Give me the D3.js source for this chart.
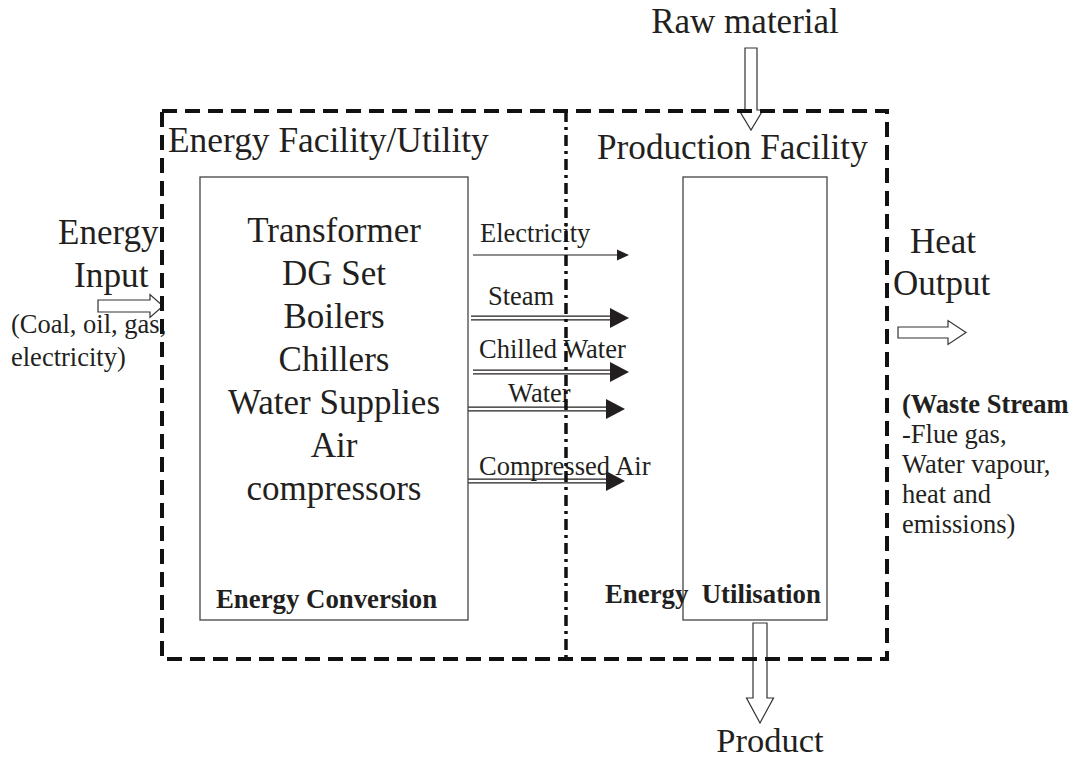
<!DOCTYPE html>
<html>
<head>
<meta charset="utf-8">
<script src="https://cdn.jsdelivr.net/npm/d3@7"></script>
<style>
  html, body { margin: 0; padding: 0; background: #fff; }
  svg { display: block; }
  text { font-family: "Liberation Serif", "Times New Roman", serif; fill: #231f20; }
</style>
</head>
<body>
<svg id="chart"></svg>
<script>
// diagram content
const componentItems = ['Transformer', 'DG Set', 'Boilers', 'Chillers', 'Water Supplies', 'Air', 'compressors'];
const flowNames = ['Electricity', 'Steam', 'Chilled Water', 'Water', 'Compressed Air'];
const flowKinds = ['single', 'double', 'double', 'double', 'double'];
const inputLines = ['(Coal, oil, gas,', 'electricity)'];
const wasteLines = ['(Waste Stream', '-Flue gas,', 'Water vapour,', 'heat and', 'emissions)'];
const wasteBold = [true, false, false, false, false];

// layout of the flow rows (line y, label baseline, label x, line start, tip)
const flowLayout = [
  { y: 255, ly: 242, lx: 480, x0: 473, x1: 629 },
  { y: 318, ly: 305, lx: 488, x0: 471, x1: 629 },
  { y: 372, ly: 358, lx: 479, x0: 473, x1: 629 },
  { y: 409, ly: 402, lx: 508, x0: 468, x1: 625 },
  { y: 481, ly: 475, lx: 479, x0: 468, x1: 625 }
];

const width = 1072, height = 763;
const ink = '#231f20';

const svg = d3.select('#chart').attr('width', width).attr('height', height);

const arrows = svg.append('g');
const boxes = svg.append('g');
const labels = svg.append('g');
const frame = svg.append('g');

// hollow block arrow, dir = 'right' or 'down'
function blockArrow(g, dir, c, s0, s1, tip, half, headHalf) {
  let pts;
  if (dir === 'right') {
    pts = [[s0, c - half], [s1, c - half], [s1, c - headHalf], [tip, c], [s1, c + headHalf], [s1, c + half], [s0, c + half]];
  } else {
    pts = [[c - half, s0], [c - half, s1], [c - headHalf, s1], [c, tip], [c + headHalf, s1], [c + half, s1], [c + half, s0]];
  }
  g.append('path')
    .attr('d', d3.line()(pts) + 'Z')
    .attr('fill', '#fff')
    .attr('stroke', '#333')
    .attr('stroke-width', 1.2);
}

blockArrow(arrows, 'down', 751, 48, 110, 130, 6, 12);      // raw material
blockArrow(arrows, 'down', 760, 623, 698, 723, 7, 13.5);   // product
blockArrow(arrows, 'right', 306, 98, 150, 163, 6, 11.5);   // energy input
blockArrow(arrows, 'right', 332.5, 898, 948, 966, 5.5, 12); // heat output

// inner boxes
boxes.append('rect')
  .attr('x', 200).attr('y', 177).attr('width', 268).attr('height', 443)
  .attr('fill', 'none').attr('stroke', '#444').attr('stroke-width', 1.3);
boxes.append('rect')
  .attr('x', 683).attr('y', 177).attr('width', 144).attr('height', 443)
  .attr('fill', 'none').attr('stroke', '#444').attr('stroke-width', 1.3);

// component list
const yItems = d3.scalePoint().domain(componentItems).range([242, 500]);
labels.selectAll('text.item')
  .data(componentItems)
  .enter().append('text')
  .attr('class', 'item')
  .attr('x', 334)
  .attr('y', d => yItems(d))
  .attr('text-anchor', 'middle')
  .style('font-size', '35px')
  .text(d => d);

// flow arrows
flowNames.forEach((name, i) => {
  const f = flowLayout[i];
  const double = flowKinds[i] === 'double';
  const headLen = double ? 19 : 12;
  const headHalf = double ? 10 : 5.5;
  const offsets = double ? [-1.8, 1.8] : [0];
  offsets.forEach(o => {
    arrows.append('line')
      .attr('x1', f.x0).attr('x2', f.x1 - headLen + 2)
      .attr('y1', f.y + o).attr('y2', f.y + o)
      .attr('stroke', ink).attr('stroke-width', 1.2);
  });
  arrows.append('path')
    .attr('d', d3.line()([[f.x1 - headLen, f.y - headHalf], [f.x1, f.y], [f.x1 - headLen, f.y + headHalf]]) + 'Z')
    .attr('fill', ink);
  labels.append('text')
    .attr('x', f.lx).attr('y', f.ly)
    .style('font-size', '26.5px')
    .text(name);
});

// titles
function label(x, y, txt, size, opts = {}) {
  return labels.append('text')
    .attr('x', x).attr('y', y)
    .attr('text-anchor', opts.anchor || 'start')
    .style('font-size', size + 'px')
    .style('font-weight', opts.bold ? 'bold' : 'normal')
    .text(txt);
}

label(745, 33, 'Raw material', 35, { anchor: 'middle' });
label(168, 152, 'Energy Facility/Utility', 35.4);
label(597, 159, 'Production Facility', 35.2);
label(770, 752, 'Product', 34.5, { anchor: 'middle' });
label(58, 244, 'Energy', 35);
label(74, 287, 'Input', 35.3);
label(910, 253, 'Heat', 35);
label(893, 295, 'Output', 35);
label(216, 608, 'Energy Conversion', 26.8, { bold: true });
label(605, 603, 'Energy\u00a0\u00a0Utilisation', 26.8, { bold: true });

const yInput = d3.scalePoint().domain(inputLines).range([333, 366]);
labels.selectAll('text.input')
  .data(inputLines)
  .enter().append('text')
  .attr('class', 'input')
  .attr('x', 11)
  .attr('y', d => yInput(d))
  .style('font-size', '26.5px')
  .text(d => d);

const yWaste = d3.scalePoint().domain(wasteLines).range([413, 533]);
labels.selectAll('text.waste')
  .data(wasteLines)
  .enter().append('text')
  .attr('class', 'waste')
  .attr('x', 902)
  .attr('y', d => yWaste(d))
  .style('font-size', '26.5px')
  .style('font-weight', (d, i) => wasteBold[i] ? 'bold' : 'normal')
  .text(d => d);

// dashed outer frame and dash-dot divider, drawn on top
frame.append('rect')
  .attr('x', 162).attr('y', 111).attr('width', 725).attr('height', 548)
  .attr('fill', 'none')
  .attr('stroke', '#111')
  .attr('stroke-width', 4)
  .attr('stroke-dasharray', '15,8');

frame.append('line')
  .attr('x1', 566).attr('x2', 566)
  .attr('y1', 111).attr('y2', 659)
  .attr('stroke', '#111')
  .attr('stroke-width', 3.5)
  .attr('stroke-dasharray', '11,5,3,5');
</script>
</body>
</html>
